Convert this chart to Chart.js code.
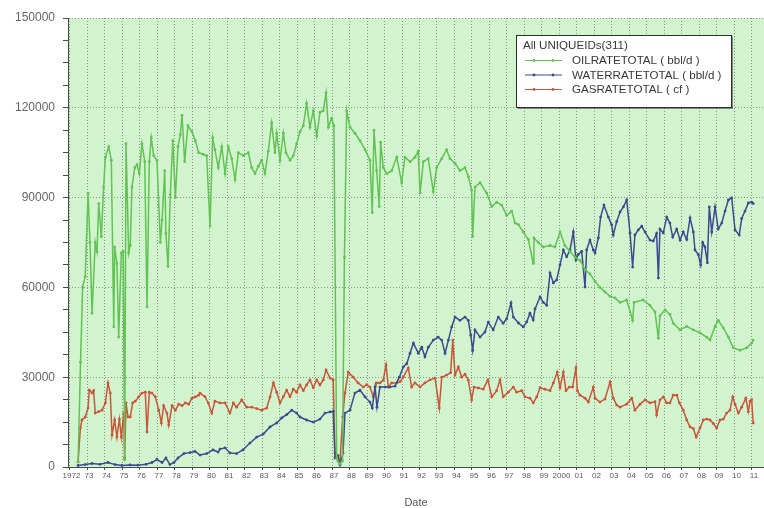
<!DOCTYPE html>
<html>
<head>
<meta charset="utf-8">
<title>All UNIQUEIDs(311) production rates</title>
<script src="https://cdn.jsdelivr.net/npm/chart.js@4.4.1/dist/chart.umd.min.js"></script>
<style>
  html, body { margin: 0; padding: 0; background: #ffffff; }
  #wrap { position: relative; width: 764px; height: 508px; }
  canvas { display: block; }
</style>
</head>
<body>
<div id="wrap"><canvas id="chart" width="764" height="508"></canvas></div>
<script>
// Year ticks along the date axis and their printed labels
const tickYears = [1972,1973,1974,1975,1976,1977,1978,1979,1980,1981,1982,1983,1984,1985,1986,1987,1988,1989,1990,1991,
  1992,1993,1994,1995,1996,1997,1998,1999,2000,2001,2002,2003,2004,2005,2006,2007,2008,2009,2010,2011];
const tickLabels = ['1972','73','74','75','76','77','78','79','80','81','82','83','84','85','86','87','88','89','90','91',
  '92','93','94','95','96','97','98','99','2000','01','02','03','04','05','06','07','08','09','10','11'];

const legendTitle = 'All UNIQUEIDs(311)';
const seriesNames = ['OILRATETOTAL ( bbl/d )', 'WATERRATETOTAL ( bbl/d )', 'GASRATETOTAL ( cf )'];

// Oil rate, bbl/d
const oilYears = [
  1972.49,1972.63,1972.75,1972.90,1973.06,1973.17,1973.29,1973.47,1973.57,1973.67,
  1973.82,1973.95,1974.05,1974.24,1974.39,1974.53,1974.58,1974.71,1974.81,1974.96,
  1975.07,1975.15,1975.23,1975.38,1975.47,1975.57,1975.73,1975.86,1975.99,1976.14,
  1976.30,1976.43,1976.56,1976.67,1976.81,1977.00,1977.19,1977.29,1977.44,1977.51,
  1977.63,1977.76,1977.90,1978.05,1978.20,1978.33,1978.43,1978.58,1978.77,1979.00,
  1979.19,1979.38,1979.63,1979.84,1980.03,1980.18,1980.31,1980.50,1980.70,1980.89,
  1981.07,1981.27,1981.46,1981.65,1981.93,1982.22,1982.41,1982.60,1982.79,1982.98,
  1983.17,1983.36,1983.55,1983.74,1983.84,1984.03,1984.22,1984.37,1984.60,1984.79,
  1984.98,1985.17,1985.36,1985.55,1985.74,1985.93,1986.13,1986.31,1986.50,1986.66,
  1986.79,1986.98,1987.11,1987.27,1987.43,1987.60,1987.71,1987.84,1988.03,1988.31,
  1988.60,1988.89,1989.17,1989.30,1989.40,1989.55,1989.70,1989.78,1989.93,1990.13,
  1990.41,1990.70,1990.98,1991.17,1991.46,1991.74,1991.93,1992.03,1992.22,1992.50,
  1992.79,1992.98,1993.27,1993.55,1993.74,1994.03,1994.31,1994.60,1994.79,1994.98,
  1995.04,1995.17,1995.46,1995.84,1996.13,1996.41,1996.70,1996.98,1997.27,1997.46,
  1997.65,1997.93,1998.22,1998.50,1998.54,1998.79,1999.07,1999.46,1999.74,2000.03,
  2000.31,2000.60,2000.89,2001.17,2001.46,2001.74,2002.03,2002.31,2002.60,2002.89,
  2003.17,2003.46,2003.84,2004.18,2004.26,2004.77,2005.17,2005.46,2005.65,2005.74,
  2006.03,2006.31,2006.50,2006.89,2007.27,2007.65,2008.03,2008.41,2008.60,2008.89,
  2009.07,2009.36,2009.65,2009.93,2010.31,2010.70,2010.98,2011.07];
const oilRates = [
  1700,35000,60000,63600,91500,75000,51400,75000,72000,88000,
  77000,93500,103500,107000,102500,46800,73500,68000,43400,71500,
  72000,2300,108000,71500,74000,93500,100000,101000,98000,108000,
  102000,53500,102000,110000,104000,102500,75000,82500,99000,78000,
  67000,91000,109000,90000,107000,111000,117500,102000,114000,112000,
  109000,105000,104500,104000,80500,110000,106000,100000,107000,98000,
  107000,103000,96000,105000,104000,105000,100000,98000,100500,102500,
  98000,105500,115000,105000,111500,102500,111500,105000,102500,104000,
  108000,112000,114000,121500,113500,119000,110500,118500,119000,125000,
  113500,116500,114000,3000,1000,2000,70000,119000,113500,111500,
  109000,106000,102500,85000,112500,99000,87000,108500,100000,98000,
  99000,103500,95000,103500,102000,103500,105500,91500,102000,103000,
  92000,100000,103000,106000,103000,101500,99000,100000,97000,92500,
  77000,93500,95000,91500,87000,88500,87500,84000,85500,81500,
  81000,78500,76000,68000,76500,75000,73500,74000,73500,78500,
  74000,72000,70000,69000,66000,64500,62000,60000,58500,57000,
  56500,55000,55800,49000,55000,55800,54000,51800,43000,50500,
  52500,51000,48000,45800,47000,45800,44800,43400,42400,47000,
  49000,46500,43400,39800,39000,39800,41400,42400];

// Water rate, bbl/d
const waterYears = [
  1972.49,1972.89,1973.29,1973.74,1974.20,1974.60,1975.00,1975.46,1975.91,1976.37,
  1976.71,1977.00,1977.29,1977.51,1977.74,1977.97,1978.20,1978.54,1978.89,1979.17,
  1979.46,1979.84,1980.20,1980.49,1980.60,1980.89,1981.17,1981.55,1981.91,1982.31,
  1982.70,1983.07,1983.46,1983.84,1984.13,1984.41,1984.70,1984.98,1985.17,1985.55,
  1985.93,1986.31,1986.60,1986.89,1987.07,1987.17,1987.34,1987.46,1987.63,1987.74,
  1988.03,1988.31,1988.60,1988.89,1989.17,1989.30,1989.46,1989.57,1989.74,1990.03,
  1990.31,1990.60,1990.85,1991.07,1991.27,1991.46,1991.65,1991.93,1992.13,1992.31,
  1992.50,1992.79,1993.07,1993.27,1993.46,1993.65,1993.84,1994.03,1994.31,1994.60,
  1994.79,1994.93,1995.04,1995.17,1995.46,1995.74,1995.93,1996.21,1996.50,1996.78,
  1996.98,1997.23,1997.36,1997.65,1997.93,1998.13,1998.31,1998.50,1998.60,1998.89,
  1999.07,1999.27,1999.46,1999.65,1999.84,2000.03,2000.22,2000.41,2000.60,2000.79,
  2000.94,2001.07,2001.27,2001.46,2001.55,2001.74,2001.93,2002.03,2002.22,2002.35,
  2002.54,2002.79,2002.98,2003.07,2003.27,2003.46,2003.65,2003.84,2004.03,2004.18,
  2004.31,2004.50,2004.70,2004.89,2005.17,2005.36,2005.55,2005.65,2005.74,2005.93,
  2006.13,2006.31,2006.47,2006.70,2006.89,2007.07,2007.27,2007.46,2007.65,2007.74,
  2007.93,2008.07,2008.18,2008.31,2008.45,2008.56,2008.70,2008.89,2009.07,2009.27,
  2009.46,2009.65,2009.84,2010.03,2010.27,2010.41,2010.60,2010.79,2010.98,2011.07];
const waterRates = [
  500,800,1200,900,1500,800,500,700,600,900,
  1500,2500,1500,3000,800,1500,3000,4500,4800,5200,
  4000,4500,5700,5000,6000,6400,4700,4500,5700,8000,
  10000,11000,13400,14700,16400,17500,19000,18000,16700,15700,
  15000,16000,18000,18400,18600,3000,3800,700,4700,18000,
  19000,24700,25700,23400,21700,19700,26700,20000,26700,26700,
  26700,27000,30000,33400,34500,38000,41400,38000,40000,36800,
  40000,42400,43400,42400,38000,42400,46800,50100,49000,50100,
  49000,44000,39000,45800,43400,45100,48400,45800,50100,48000,
  49500,54800,50100,48100,46800,48500,51400,49100,52800,56800,
  55000,54000,64800,61500,62500,67500,72500,70200,72500,78500,
  69200,71000,72000,60100,72500,75800,72500,71500,76500,83500,
  87500,83500,80900,77500,82000,85200,86900,89200,78200,66800,
  77500,79200,80500,78500,75800,75500,78000,63100,79500,78200,
  83500,81500,76800,79500,75800,78500,76000,83200,78500,72500,
  71000,67500,75000,73500,68200,86900,78500,86900,79500,81500,
  85500,89200,89900,79200,77500,83000,85500,88200,88500,88000];

// Gas rate, cf
const gasYears = [
  1972.49,1972.62,1972.71,1972.90,1973.06,1973.13,1973.29,1973.38,1973.47,1973.67,
  1973.86,1974.05,1974.20,1974.33,1974.43,1974.58,1974.71,1974.85,1974.96,1975.10,
  1975.15,1975.23,1975.34,1975.47,1975.61,1975.76,1975.95,1976.14,1976.33,1976.43,
  1976.56,1976.71,1976.90,1977.10,1977.25,1977.38,1977.57,1977.67,1977.86,1978.05,
  1978.24,1978.43,1978.62,1978.81,1979.00,1979.19,1979.38,1979.46,1979.74,1979.93,
  1980.13,1980.31,1980.60,1980.89,1981.17,1981.36,1981.55,1981.84,1982.13,1982.41,
  1982.70,1982.98,1983.27,1983.46,1983.65,1983.84,1984.03,1984.22,1984.41,1984.60,
  1984.79,1984.98,1985.17,1985.36,1985.55,1985.74,1985.93,1986.13,1986.31,1986.50,
  1986.66,1986.89,1987.07,1987.17,1987.34,1987.46,1987.61,1987.74,1987.93,1988.22,
  1988.49,1988.79,1988.98,1989.17,1989.36,1989.55,1989.74,1989.93,1990.09,1990.22,
  1990.41,1990.70,1990.89,1991.07,1991.36,1991.55,1991.74,1992.03,1992.31,1992.60,
  1992.89,1993.13,1993.27,1993.55,1993.78,1993.90,1994.03,1994.22,1994.41,1994.60,
  1994.79,1994.98,1995.11,1995.36,1995.64,1995.91,1996.13,1996.41,1996.60,1996.78,
  1997.07,1997.36,1997.55,1997.84,1998.03,1998.31,1998.50,1998.70,1998.89,1999.17,
  1999.46,1999.65,1999.87,2000.03,2000.22,2000.37,2000.56,2000.75,2000.94,2001.02,
  2001.17,2001.46,2001.65,2001.93,2002.03,2002.31,2002.60,2002.89,2003.07,2003.27,
  2003.46,2003.84,2004.13,2004.31,2004.60,2004.89,2005.17,2005.46,2005.55,2005.74,
  2005.93,2006.13,2006.31,2006.50,2006.70,2006.85,2007.07,2007.27,2007.46,2007.65,
  2007.81,2008.03,2008.22,2008.41,2008.60,2008.79,2008.98,2009.17,2009.36,2009.55,
  2009.74,2009.90,2010.03,2010.22,2010.41,2010.65,2010.79,2010.89,2010.98,2011.07];
const gasRates = [
  1700,13000,15700,16700,19700,25700,24700,25500,18000,18500,
  19000,21400,28100,24700,10700,15700,10000,16000,10000,18000,
  3000,21400,16700,16700,21400,22000,23400,24700,25000,11700,
  25000,24700,23500,19000,14700,20500,18000,14000,20500,19000,
  21000,20500,21400,21000,23000,23400,24000,24700,23500,21400,
  18000,22000,21400,21400,18000,21400,20000,22400,20000,20000,
  19500,19000,19700,23400,28100,25000,21400,23500,25700,23500,
  26000,25000,27400,25500,27400,29100,26500,29100,27400,29100,
  32400,29700,29100,4700,2000,2300,16700,24700,31700,30000,
  28100,26700,27500,26700,23400,28100,28100,29000,34100,26700,
  28100,28100,28500,30000,33100,26700,28100,26700,28100,29100,
  29700,19700,30000,30700,31500,42400,30700,33400,30000,31000,
  29000,22400,26700,26400,26000,29100,23400,25500,29100,23400,
  25000,26700,25000,25500,23400,23000,21400,23400,26500,26000,
  25500,28100,31700,26500,31700,25500,26700,26700,33100,25500,
  24000,23000,21700,26700,23000,21700,22700,28400,23000,20700,
  20000,21000,23000,19000,21000,22400,21400,21800,17400,22400,
  23400,21400,21400,24000,24000,21400,19000,15700,13400,12800,
  10000,13000,15700,16000,15700,14500,13000,15700,16000,18000,
  19000,23400,21000,18000,20000,23000,18500,22000,22500,14700];

const FONT = '"Liberation Sans", Arial, Helvetica, sans-serif';
const PLOT_BG = '#d1f4cf';
const GRID = 'rgba(105, 125, 105, 0.75)';
const AXIS = '#4a4a4a';
const COLORS = ['#62c254', '#3c4a8e', '#c9553a'];

function pairs(xs, ys) {
  return xs.map((x, i) => ({ x: x, y: ys[i] }));
}

function series(label, xs, ys, color) {
  return {
    label: label,
    data: pairs(xs, ys),
    borderColor: color,
    backgroundColor: color,
    borderWidth: 1.5,
    pointRadius: 1.4,
    pointBorderWidth: 0,
    pointBackgroundColor: color,
    tension: 0,
    fill: false
  };
}

// Light green plotting area behind the curves
const plotBackground = {
  id: 'plotBackground',
  beforeDraw(chart) {
    const { ctx, chartArea: a } = chart;
    ctx.save();
    ctx.fillStyle = PLOT_BG;
    ctx.fillRect(a.left, a.top, a.right - a.left, a.bottom - a.top);
    ctx.restore();
  }
};

// Boxed legend with a title, drawn inside the plot
const boxedLegend = {
  id: 'boxedLegend',
  afterDraw(chart) {
    const ctx = chart.ctx;
    const x = 516.5, y = 35.5, w = 215, h = 72;
    ctx.save();
    ctx.fillStyle = '#ffffff';
    ctx.fillRect(x, y, w, h);
    ctx.strokeStyle = '#2e2e2e';
    ctx.lineWidth = 1;
    ctx.strokeRect(x, y, w, h);
    ctx.beginPath();
    ctx.moveTo(x + 1, y + h + 1);
    ctx.lineTo(x + w + 1, y + h + 1);
    ctx.lineTo(x + w + 1, y + 1);
    ctx.strokeStyle = 'rgba(40,40,40,0.5)';
    ctx.stroke();

    ctx.font = '11.6px ' + FONT;
    ctx.textBaseline = 'middle';
    ctx.textAlign = 'left';
    ctx.fillStyle = '#383838';
    ctx.fillText(legendTitle, 523, 45.5);

    chart.data.datasets.forEach((ds, i) => {
      const ly = 60.5 + i * 14.5;
      ctx.strokeStyle = ds.borderColor;
      ctx.lineWidth = 1.2;
      ctx.beginPath();
      ctx.moveTo(525, ly);
      ctx.lineTo(562, ly);
      ctx.stroke();
      ctx.fillStyle = ds.borderColor;
      [534, 553].forEach(px => {
        ctx.beginPath();
        ctx.arc(px, ly, 1.4, 0, Math.PI * 2);
        ctx.fill();
      });
      ctx.fillStyle = '#383838';
      ctx.fillText(ds.label, 572, ly + 0.5);
    });
    ctx.restore();
  }
};

Chart.defaults.font.family = FONT;

new Chart(document.getElementById('chart'), {
  type: 'line',
  data: {
    datasets: [
      series(seriesNames[0], oilYears, oilRates, COLORS[0]),
      series(seriesNames[1], waterYears, waterRates, COLORS[1]),
      series(seriesNames[2], gasYears, gasRates, COLORS[2])
    ]
  },
  options: {
    responsive: false,
    animation: false,
    devicePixelRatio: 1,
    layout: { autoPadding: false, padding: { top: 18, right: 0, bottom: 0, left: 0 } },
    plugins: {
      legend: { display: false },
      tooltip: { enabled: false }
    },
    scales: {
      x: {
        type: 'linear',
        min: 1971.914,
        max: 2011.686,
        afterBuildTicks: scale => {
          scale.ticks = tickYears.map(v => ({ value: v }));
        },
        afterFit: scale => {
          scale.height = 41;
          scale.paddingLeft = 0;
          scale.paddingRight = 0;
        },
        ticks: {
          autoSkip: false,
          maxRotation: 0,
          minRotation: 0,
          padding: 1,
          labelOffset: 2,
          color: '#5a5a5a',
          font: { size: 8, family: FONT },
          callback: (value, index) => tickLabels[index]
        },
        grid: {
          color: GRID,
          lineWidth: 1,
          tickLength: 3,
          tickColor: AXIS,
          drawTicks: true
        },
        border: { display: true, color: AXIS, width: 1, dash: [1, 2] },
        title: {
          display: true,
          text: 'Date',
          color: '#555555',
          font: { size: 11, family: FONT, lineHeight: 1 },
          padding: 0
        }
      },
      y: {
        type: 'linear',
        min: 0,
        max: 150000,
        afterFit: scale => { scale.width = 68; },
        ticks: {
          stepSize: 7500,
          autoSkip: false,
          padding: 8,
          color: '#666666',
          font: { size: 12, family: FONT },
          callback: value => (value % 30000 === 0 ? String(value) : '')
        },
        grid: {
          color: ctx => (ctx.tick && ctx.tick.value % 30000 === 0 && ctx.tick.value > 0) ? GRID : 'rgba(0,0,0,0)',
          lineWidth: 1,
          tickLength: 5,
          tickColor: AXIS,
          drawTicks: true
        },
        border: { display: true, color: AXIS, width: 1, dash: [1, 2] }
      }
    }
  },
  plugins: [plotBackground, boxedLegend]
});
</script>
</body>
</html>
